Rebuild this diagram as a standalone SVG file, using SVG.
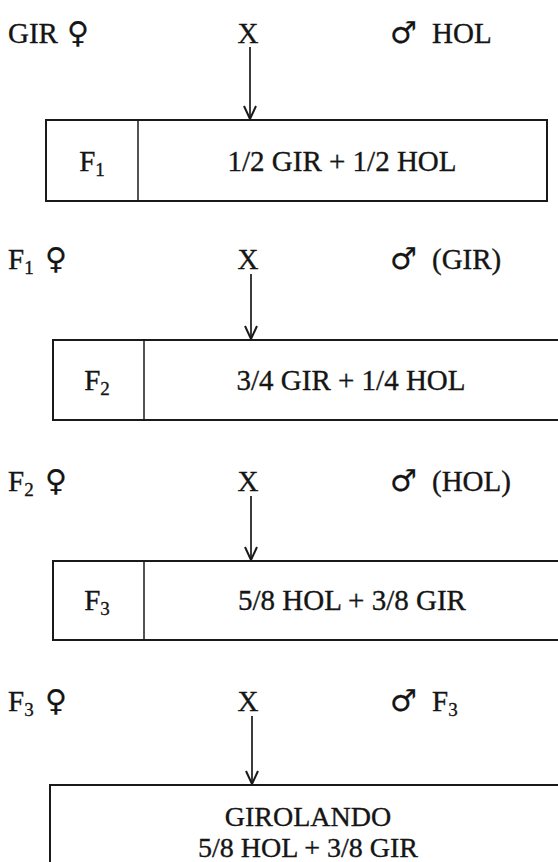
<svg xmlns="http://www.w3.org/2000/svg" width="558" height="862" viewBox="0 0 558 862">
<style>
text{font-family:"Liberation Serif","Times New Roman",serif;font-size:29px;fill:#151515;stroke:#151515;stroke-width:0.35}
.sym{font-family:"DejaVu Sans","Liberation Serif",sans-serif;font-size:30px;stroke-width:0.2}
.sub{font-size:19px}
.box{fill:#fff;stroke:#1a1a1a;stroke-width:2}
.div{stroke:#1a1a1a;stroke-width:1.5}
.arr{stroke:#1a1a1a;stroke-width:1.7;fill:none;marker-end:url(#ah)}
.m{text-anchor:middle}
.g{font-size:28px}
</style>
<defs>
<marker id="ah" viewBox="-15 -8 16 16" refX="0" refY="0" markerWidth="16" markerHeight="16" markerUnits="userSpaceOnUse" orient="auto">
<path d="M-13,-6 L0,0 L-13,6" fill="none" stroke="#1a1a1a" stroke-width="2"/>
</marker>
</defs>
<g id="row1">
<text x="8" y="43">GIR</text>
<text x="67" y="43" class="sym">♀</text>
<text x="248" y="43" class="m">X</text>
<text x="390" y="43" class="sym">♂</text>
<text x="432" y="43">HOL</text>
</g>
<g id="F1">
<rect class="box" x="46" y="120" width="501" height="81"/>
<line class="div" x1="138" y1="120" x2="138" y2="201"/>
<text x="92" y="171" class="m">F<tspan class="sub" dy="5">1</tspan></text>
<text x="342" y="171" class="m">1/2 GIR + 1/2 HOL</text>
</g>
<g id="row2">
<text x="8" y="269">F<tspan class="sub" dy="5">1</tspan></text>
<text x="45" y="269" class="sym">♀</text>
<text x="248" y="269" class="m">X</text>
<text x="390" y="269" class="sym">♂</text>
<text x="432" y="269">(GIR)</text>
</g>
<g id="F2">
<rect class="box" x="53" y="340" width="520" height="80"/>
<line class="div" x1="144" y1="340" x2="144" y2="420"/>
<text x="97" y="390" class="m">F<tspan class="sub" dy="5">2</tspan></text>
<text x="351" y="390" class="m">3/4 GIR + 1/4 HOL</text>
</g>
<g id="row3">
<text x="8" y="491">F<tspan class="sub" dy="5">2</tspan></text>
<text x="45" y="491" class="sym">♀</text>
<text x="248" y="491" class="m">X</text>
<text x="390" y="491" class="sym">♂</text>
<text x="432" y="491">(HOL)</text>
</g>
<g id="F3">
<rect class="box" x="53" y="561" width="520" height="79"/>
<line class="div" x1="144" y1="561" x2="144" y2="640"/>
<text x="97" y="610" class="m">F<tspan class="sub" dy="5">3</tspan></text>
<text x="352" y="610" class="m">5/8 HOL + 3/8 GIR</text>
</g>
<g id="row4">
<text x="8" y="711">F<tspan class="sub" dy="5">3</tspan></text>
<text x="45" y="711" class="sym">♀</text>
<text x="248" y="711" class="m">X</text>
<text x="390" y="711" class="sym">♂</text>
<text x="432" y="711">F<tspan class="sub" dy="5">3</tspan></text>
</g>
<g id="GIROLANDO">
<rect class="box" x="50" y="785" width="520" height="90"/>
<text x="308" y="826" class="m g">GIROLANDO</text>
<text x="308" y="857" class="m g">5/8 HOL + 3/8 GIR</text>
</g>
<g id="connectors">
<line class="arr" x1="250" y1="47" x2="250" y2="119"/>
<line class="arr" x1="251" y1="274" x2="251" y2="339"/>
<line class="arr" x1="251" y1="496" x2="251" y2="560"/>
<line class="arr" x1="252" y1="716" x2="252" y2="784"/>
</g>
</svg>
